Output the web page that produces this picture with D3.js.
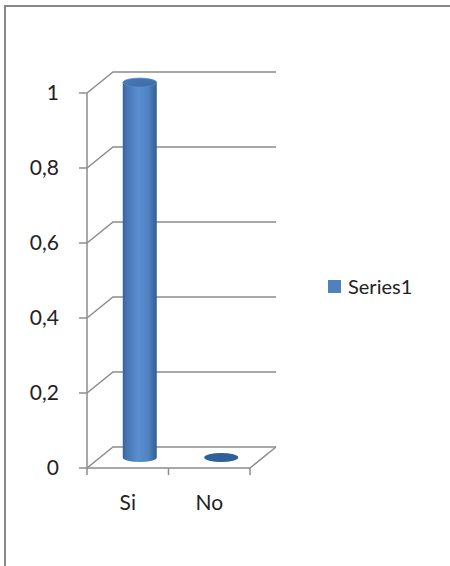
<!DOCTYPE html>
<html><head><meta charset="utf-8">
<script src="https://cdn.jsdelivr.net/npm/d3@7"></script>
<style>html,body{margin:0;padding:0;background:#fff;}svg{display:block;}</style>
</head><body>
<script>
const categories = ["Si", "No"];
const values = [1, 0];
const yTicks = [0, 0.2, 0.4, 0.6, 0.8, 1];
const yTickLabels = ["0", "0,2", "0,4", "0,6", "0,8", "1"];
const seriesName = "Series1";

const W = 450, H = 566;
const svg = d3.select("body").append("svg").attr("width", W).attr("height", H);
const FONT = "Lato, 'Open Sans', sans-serif";

// outer border
svg.append("rect").attr("x", 5).attr("y", 6).attr("width", 470).attr("height", 590)
  .attr("fill", "none").attr("stroke", "#888").attr("stroke-width", 2);

const x = d3.scaleBand().domain(categories).range([87, 250]);
const y = d3.scaleLinear().domain([0, 1]).range([468, 93]);
const DX = 26, DY = -21; // depth offset
const grid = "#8c8c8c";

const defs = svg.append("defs");
const g1 = defs.append("linearGradient").attr("id", "cyl").attr("x1", "0").attr("x2", "1").attr("y1", "0").attr("y2", "0");
[["0%", "#36639c"], ["12%", "#4675b2"], ["45%", "#5b8ecf"], ["75%", "#5083c2"], ["100%", "#315d93"]]
  .forEach(([o, c]) => g1.append("stop").attr("offset", o).attr("stop-color", c));
const g2 = defs.append("linearGradient").attr("id", "top").attr("x1", "0").attr("x2", "1").attr("y1", "0").attr("y2", "1");
[["0%", "#4a7cba"], ["100%", "#3a6aa6"]]
  .forEach(([o, c]) => g2.append("stop").attr("offset", o).attr("stop-color", c));

// gridlines (side wall + back wall)
const gl = svg.append("g").attr("stroke", grid).attr("stroke-width", 1.5).attr("fill", "none");
const x0 = x.range()[0], x1 = x.range()[1];
yTicks.forEach(t => {
  gl.append("path").attr("d", `M${x0},${y(t)}L${x0 + DX},${y(t) + DY}L${x1 + DX},${y(t) + DY}`);
  gl.append("line").attr("x1", x0 - 8).attr("x2", x0).attr("y1", y(t)).attr("y2", y(t));
});
// floor
gl.append("path").attr("d", `M${x0},${y(0)}L${x1},${y(0)}L${x1 + DX},${y(0) + DY}`);
// vertical axis
gl.append("line").attr("x1", x0).attr("x2", x0).attr("y1", y(1)).attr("y2", y(0));
// category ticks
const catTicks = categories.map(c => x(c)).concat([x1]);
catTicks.forEach(v => gl.append("line").attr("x1", v).attr("x2", v).attr("y1", y(0)).attr("y2", y(0) + 7));

// y labels
svg.append("g").selectAll("text").data(yTicks).join("text")
  .attr("x", 59).attr("y", t => y(t)).attr("dy", "0.35em").attr("text-anchor", "end")
  .attr("font-family", FONT).attr("font-size", 21).attr("fill", "#222")
  .text((t, i) => yTickLabels[i]);

// category labels
svg.append("g").selectAll("text").data(categories).join("text")
  .attr("x", c => x(c) + x.bandwidth() / 2).attr("y", 503).attr("dy", "0.35em").attr("text-anchor", "middle")
  .attr("font-family", FONT).attr("font-size", 21).attr("fill", "#222")
  .text(c => c);

// cylinders
const rx = 17, ry = 4.5;
const cg = svg.append("g");
categories.forEach((c, i) => {
  const cx = x(c) + x.bandwidth() / 2 + DX / 2 - 1;
  const yb = y(0) + DY / 2, yt = y(values[i]) + DY / 2;
  if (values[i] > 0) {
    cg.append("path")
      .attr("d", `M${cx - rx},${yt}L${cx - rx},${yb}A${rx},${ry} 0 0 0 ${cx + rx},${yb}L${cx + rx},${yt}Z`)
      .attr("fill", "url(#cyl)");
    cg.append("ellipse").attr("cx", cx).attr("cy", yt).attr("rx", rx).attr("ry", ry)
      .attr("fill", "url(#top)").attr("stroke", "#5f8fca").attr("stroke-width", 0.6);
  } else {
    cg.append("ellipse").attr("cx", cx).attr("cy", yt).attr("rx", rx).attr("ry", ry)
      .attr("fill", "#305f9a");
  }
});

// legend
const lg = svg.append("g");
lg.append("rect").attr("x", 328).attr("y", 280).attr("width", 13).attr("height", 13).attr("fill", "#4f81bd");
lg.append("text").attr("x", 348).attr("y", 287).attr("dy", "0.35em")
  .attr("font-family", FONT).attr("font-size", 20).attr("fill", "#222").text(seriesName);
</script>
</body></html>
